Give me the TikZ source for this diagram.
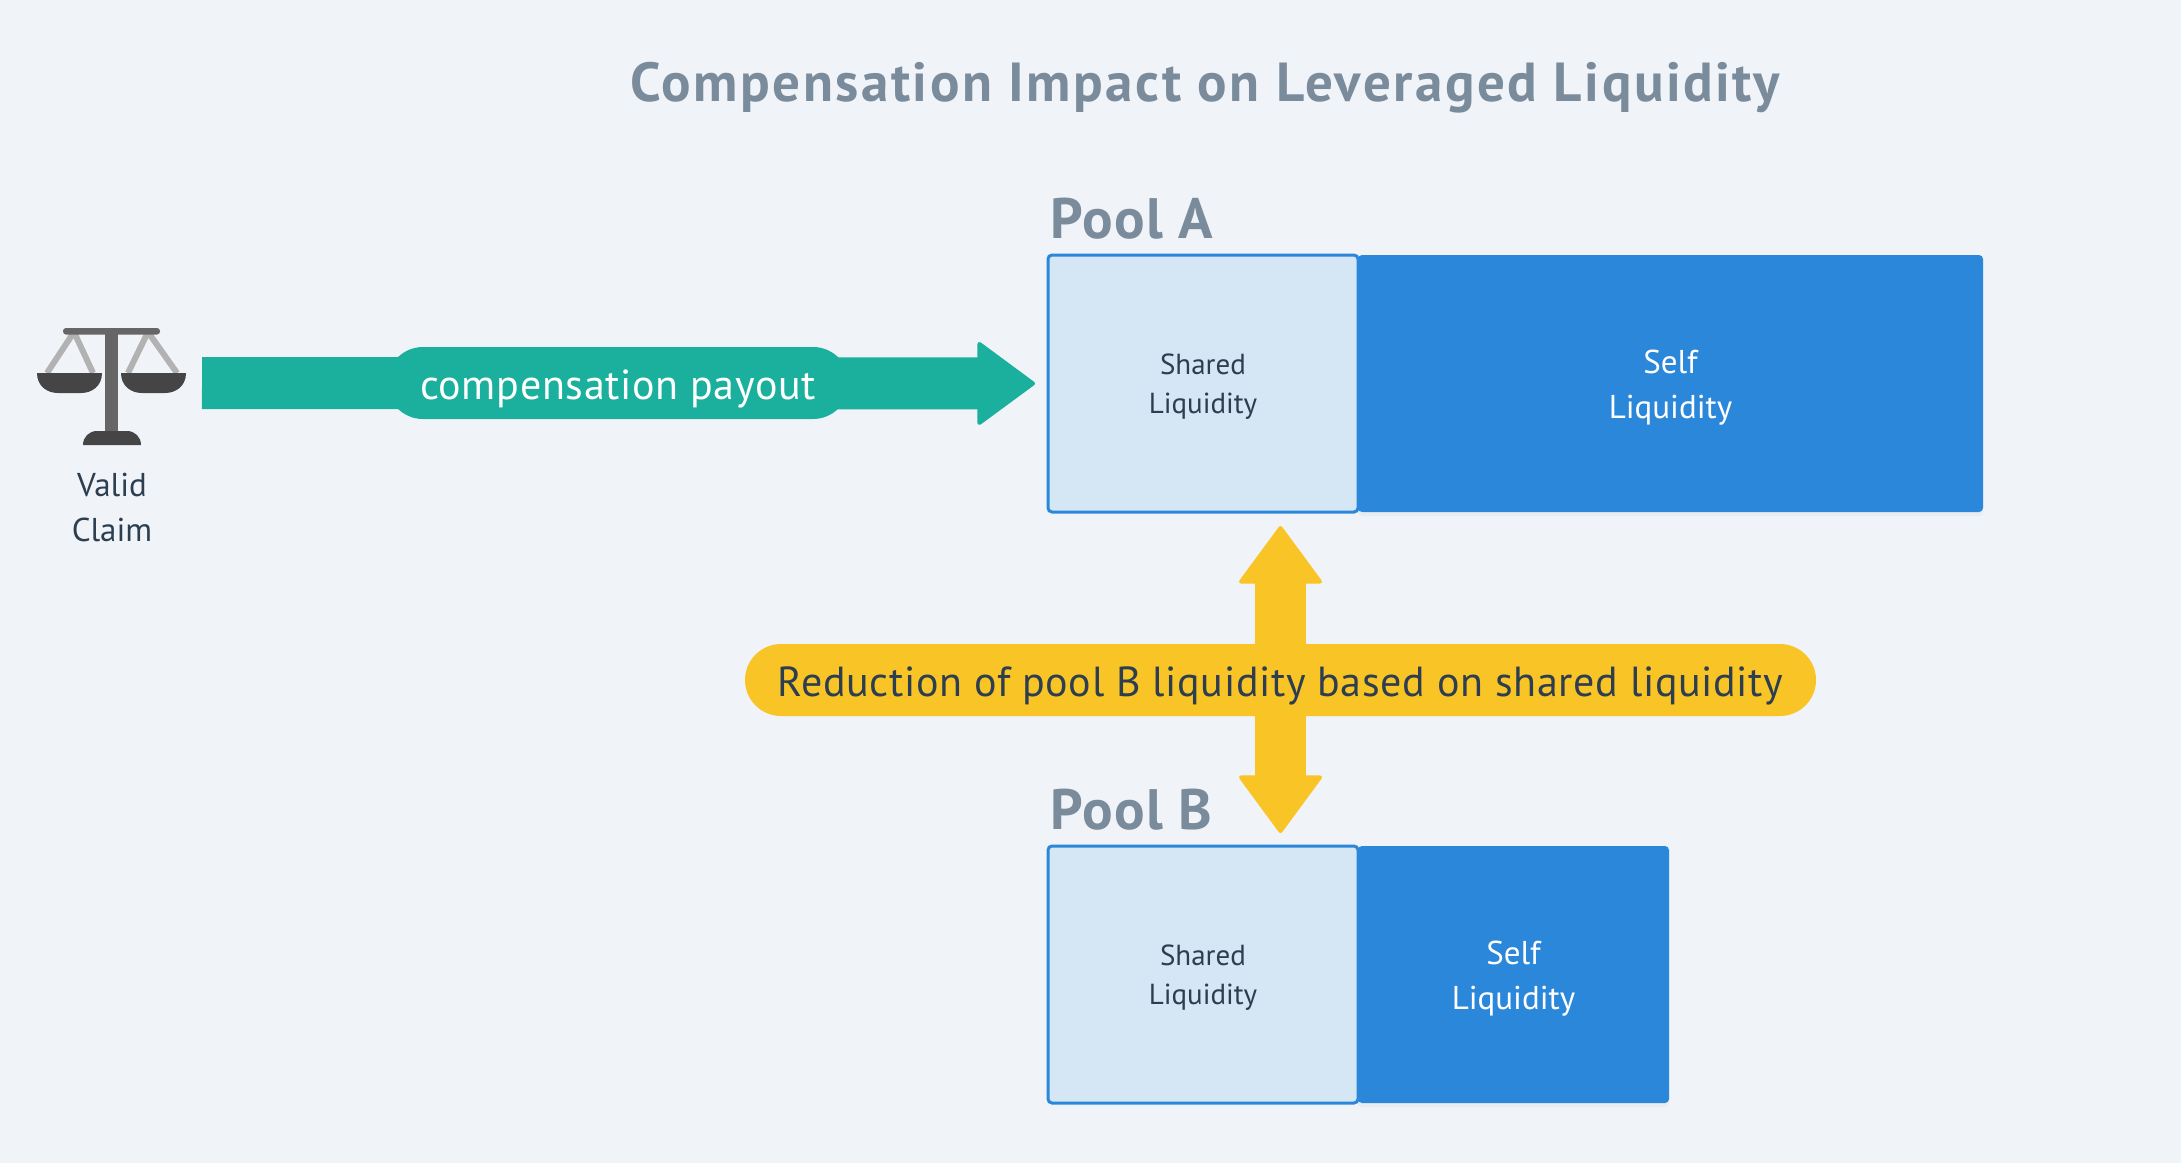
\documentclass[tikz,border=0pt]{standalone}
\usepackage{fontspec}
\setmainfont{PT Sans}
\usetikzlibrary{positioning,arrows.meta,shadows}
\definecolor{bgpage}{HTML}{F0F4F8}
\definecolor{poolblue}{HTML}{2B87DA}
\definecolor{poollight}{HTML}{D5E6F5}
\definecolor{payteal}{HTML}{1AB09D}
\definecolor{cutyellow}{HTML}{F9C426}
\definecolor{headgray}{HTML}{7A8B9C}
\definecolor{inkdark}{HTML}{2C3E50}
\tikzset{
  sharedbox/.style={draw=poolblue,line width=3,fill=poollight,rounded corners=4,inner sep=0,outer sep=0,
    minimum width=310,minimum height=257,align=center,text=inkdark,text height=60,text depth=0,
    font=\fontsize{29}{39}\selectfont},
  selfbox/.style={fill=poolblue,rounded corners=4,inner sep=0,outer sep=0,minimum height=257,align=center,
    text=white,text height=70,text depth=0,font=\fontsize{33}{45}\selectfont,
    drop shadow={shadow xshift=0pt,shadow yshift=-4pt,opacity=.06}},
  poolhead/.style={anchor=base west,inner sep=0,text=headgray,
    font=\fontsize{57}{60}\selectfont\bfseries\addfontfeature{LetterSpace=2.5}},
  flowpill/.style={rounded corners=36,inner sep=0,outer sep=0,minimum height=72,text height=36,text depth=4,
    font=\fontsize{42}{48}\selectfont\addfontfeature{LetterSpace=1.6}},
  headtip/.tip={Triangle[length=59,width=86,line width=4pt,round]},
}
\begin{document}
\begin{tikzpicture}[x=1pt,y=-1pt]
  \useasboundingbox[fill=bgpage] (0,0) rectangle (2181,1163);
  \node[text=headgray,font=\fontsize{55}{60}\selectfont\bfseries\addfontfeature{LetterSpace=4.6},inner sep=0] (title) at (1205,88) {Compensation Impact on Leveraged Liquidity};
  % pools
  \foreach \nm/\ymid/\selfw in {A/383.5/625,B/974.5/311} {
    \node[selfbox,minimum width=\selfw,anchor=west] (self\nm) at (1358,\ymid) {Self\\Liquidity};
    \node[sharedbox] (shared\nm) at (1203,\ymid) {Shared\\Liquidity};
    \node[poolhead] (pool\nm) at ([xshift=2pt,yshift=17pt]shared\nm.north west) {Pool \nm};
  }
  % scales
  \node[inner sep=0,outer sep=0,minimum width=150,minimum height=117] (scales) at (112,383) {};
  \draw[line width=6,color=black!30,line join=round] (47,373)--(74,332)--(93,373) (128,373)--(148,332)--(177,373);
  \fill[black!60] (105,332) rectangle (118,435);
  \fill[black!60,rounded corners=3] (63,328) rectangle (160,334.5);
  \foreach \dx in {0,84}
    \fill[black!73] (37+\dx,373) .. controls (37+\dx,386) and (47+\dx,393) .. (58+\dx,393) -- (81+\dx,393) .. controls (92+\dx,393) and (102+\dx,386) .. (102+\dx,373) -- cycle;
  \fill[black!73] (83,445) .. controls (83,437) and (89,431) .. (97,431) -- (127,431) .. controls (135,431) and (141,437) .. (141,445) -- cycle;
  \node[align=center,text=inkdark,inner sep=0,font=\fontsize{33}{45}\selectfont,below=31pt of scales] (claim) {Valid\\Claim};
  % payout arrow
  \draw[line width=52,draw=payteal,-{headtip},shorten <=15,shorten >=13] (scales.east) -- (sharedA.west);
  \node[flowpill,fill=payteal,minimum width=462,text=white] (payout) at (618,383) {compensation payout};
  % reduction arrow
  \coordinate (reductionmid) at (1280.5,680);
  \draw[line width=51,draw=cutyellow,{headtip}-{headtip},shorten <=14,shorten >=13] (reductionmid |- sharedA.south) -- (reductionmid |- sharedB.north);
  \node[flowpill,fill=cutyellow,minimum width=1071,text=inkdark] (reduction) at (reductionmid) {Reduction of pool B liquidity based on shared liquidity};
\end{tikzpicture}
\end{document}
